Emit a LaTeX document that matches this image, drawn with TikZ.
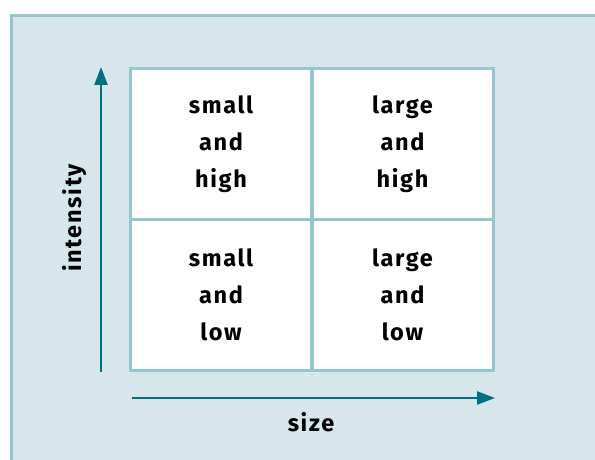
\documentclass[tikz,border=0pt]{standalone}
\usepackage{fontspec}
\setmainfont{Fira Sans}[LetterSpace=7]
\usetikzlibrary{arrows.meta}
\definecolor{panel}{HTML}{D7E6EA}
\definecolor{rim}{HTML}{97C4CD}
\definecolor{axisteal}{HTML}{006F80}

\begin{document}
\begin{tikzpicture}[x=1pt, y=1pt,
	cell/.style={draw=rim, line width=3pt, fill=white, minimum width=181pt, minimum height=150.5pt, inner sep=0pt, align=center, font=\bfseries\fontsize{23.5}{37}\selectfont},
	axislabel/.style={font=\bfseries\fontsize{23.5}{26}\selectfont},
	axisarrow/.style={draw=axisteal, line width=2.5pt, -{Triangle[length=18pt, width=13pt]}}]
	\useasboundingbox (0,0) rectangle (595,459);
	\clip (0,0) rectangle (595,459);
	\fill[white] (0,0) rectangle (595,459);
	\draw[rim, fill=panel, line width=3pt] (11.25,-10) rectangle (610,443.5);
	% the four cells
	\node[cell] (smallhigh) at (221,314.75) {small\\and\\high};
	\node[cell] (largehigh) at (402.5,314.75) {large\\and\\high};
	\node[cell] (smalllow) at (221,164.25) {small\\and\\low};
	\node[cell] (largelow) at (402.5,164.25) {large\\and\\low};
	% axes
	\coordinate (ybottom) at (101,87);
	\coordinate (ytop) at (101,392);
	\coordinate (xleft) at (132,61);
	\coordinate (xright) at (495,61);
	\draw[axisarrow] (ybottom) -- (ytop);
	\draw[axisarrow] (xleft) -- (xright);
	\node[axislabel, rotate=90] (intensity) at (75,241) {intensity};
	\node[axislabel] (size) at (311,37) {size};
\end{tikzpicture}
\end{document}
